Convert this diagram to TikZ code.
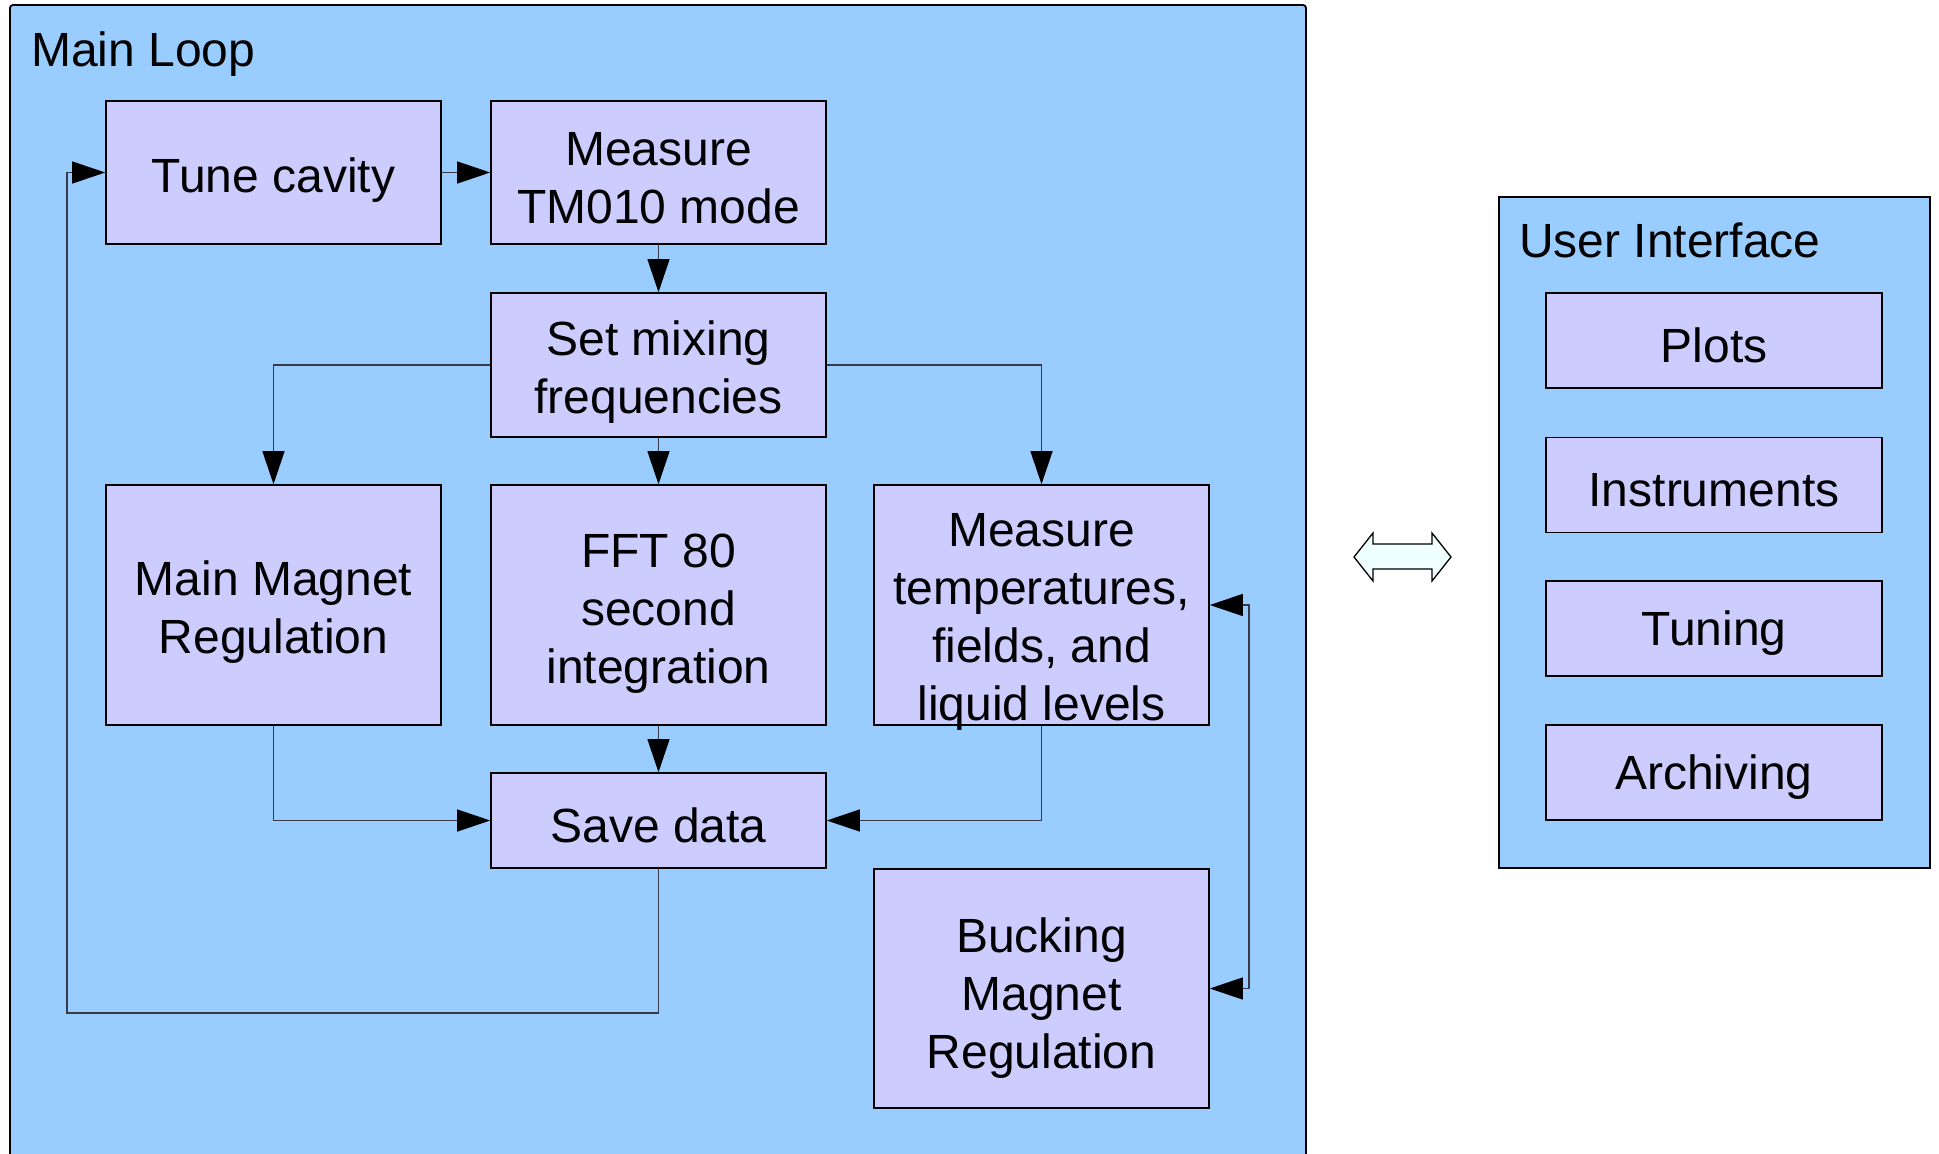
\documentclass[tikz,border=0pt]{standalone}
\usepackage{fontspec}
\setmainfont{Liberation Sans}
\usetikzlibrary{arrows.meta}
\definecolor{loopblue}{HTML}{99CCFF}
\definecolor{boxfill}{HTML}{CCCCFF}
\definecolor{arrfill}{HTML}{F0FFFF}
\definecolor{conn}{HTML}{3A3A4A}
\begin{document}
\begin{tikzpicture}[x=1pt,y=-1pt,
  box/.style={draw=black,line width=1.6pt,fill=boxfill,inner sep=0pt,minimum width=335pt},
  txt/.style={inner sep=0pt,align=center,font=\fontsize{48}{58}\selectfont},
  tip/.tip={Triangle[length=33pt,width=22pt,color=black]},
  conn/.style={draw=conn,line width=1.3pt,-tip},
  title/.style={anchor=base west,inner sep=0pt,font=\fontsize{48}{58}\selectfont}]
\clip (0,0) rectangle (1939,1154);
\fill[white] (0,0) rectangle (1939,1154);
% containers
\draw[line width=1.8pt,fill=loopblue,rounded corners=3pt] (10,5) rectangle (1306,1180);
\draw[line width=1.8pt,fill=loopblue] (1499,197) rectangle (1930,868);
\node[title] (tl) at (31,66) {Main Loop};
\node[title] (tu) at (1519,257) {User Interface};
% main loop boxes
\node[box,minimum height=143pt] (tune) at (273.5,172.5) {};
\node[box,minimum height=143pt] (meas) at (658.5,172.5) {};
\node[box,minimum height=144pt] (mix) at (658.5,365) {};
\node[box,minimum height=240pt] (mm) at (273.5,605) {};
\node[box,minimum height=240pt] (fft) at (658.5,605) {};
\node[box,minimum height=240pt] (temps) at (1041.5,605) {};
\node[box,minimum height=95pt] (save) at (658.5,820.5) {};
\node[box,minimum height=239pt] (buck) at (1041.5,988.5) {};
\node[txt,yshift=-8pt] (tunet) at (tune.center) {Tune cavity};
\node[txt,yshift=-6pt] (meast) at (meas.center) {Measure\\TM010 mode};
\node[txt,yshift=-7pt] (mixt) at (mix.center) {Set mixing\\frequencies};
\node[txt,yshift=-7pt] (mmt) at (mm.center) {Main Magnet\\Regulation};
\node[txt,yshift=-9pt] (fftt) at (fft.center) {FFT 80\\second\\integration};
\node[txt,yshift=-17pt] (tempst) at (temps.center) {Measure\\temperatures,\\fields, and\\liquid levels};
\node[txt,yshift=-5pt] (savet) at (save.center) {Save data};
\node[txt,yshift=-10pt] (buckt) at (buck.center) {Bucking\\Magnet\\Regulation};
% UI boxes
\node[box,minimum width=336pt,minimum height=95pt] (plots) at (1714,340.5) {};
\node[box,minimum width=336pt,minimum height=95pt] (instr) at (1714,485) {};
\node[box,minimum width=336pt,minimum height=95pt] (tuning) at (1714,628.5) {};
\node[box,minimum width=336pt,minimum height=95pt] (arch) at (1714,772.5) {};
\node[txt,yshift=-5pt] (plotst) at (plots.center) {Plots};
\node[txt,yshift=-5pt] (instrt) at (instr.center) {Instruments};
\node[txt,yshift=-5pt] (tuningt) at (tuning.center) {Tuning};
\node[txt,yshift=-5pt] (archt) at (arch.center) {Archiving};
% connectors
\draw[conn] (tune.east) -- (meas.west);
\draw[conn] (meas.south) -- (mix.north);
\draw[conn] (mix.south) -- (fft.north);
\draw[conn] (mix.west) -| (mm.north);
\draw[conn] (mix.east) -| (temps.north);
\draw[conn] (fft.south) -- (save.north);
\draw[conn] (mm.south) |- (save.west);
\draw[conn] (temps.south) |- (save.east);
\coordinate (lb) at (67,1013);
\draw[conn] (save.south) |- (lb) |- (tune.west);
\coordinate (rl) at (1249,605);
\draw[conn,tip-tip] (temps.east) -- (rl) |- (buck.east);
% double arrow
\draw[line width=1.3pt,fill=arrfill,line join=miter] (1354,557) -- (1373,533) -- (1373,544) -- (1432,544) -- (1432,533) -- (1451,557) -- (1432,581) -- (1432,569) -- (1373,569) -- (1373,581) -- cycle;
\end{tikzpicture}
\end{document}
